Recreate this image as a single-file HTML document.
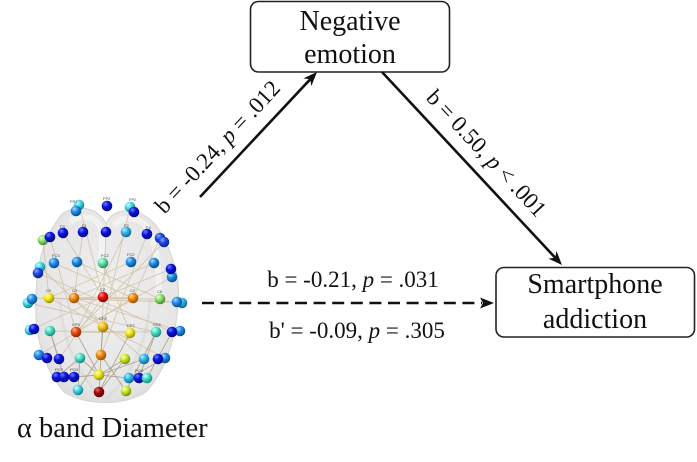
<!DOCTYPE html>
<html><head><meta charset="utf-8"><style>
html,body{margin:0;padding:0;background:#fff;}
svg{display:block;}
text{font-family:"Liberation Serif","Times New Roman",serif;fill:#111;}
.t{font-size:4px;fill:#444;font-family:"Liberation Sans",sans-serif;}
</style></head><body>
<svg width="697" height="462" viewBox="0 0 697 462" xmlns="http://www.w3.org/2000/svg">
<defs>
<radialGradient id="db" cx="35%" cy="30%" r="70%"><stop offset="0" stop-color="#6f7cff"/><stop offset=".45" stop-color="#0a14d8"/><stop offset="1" stop-color="#04088a"/></radialGradient>
<radialGradient id="bl" cx="35%" cy="30%" r="70%"><stop offset="0" stop-color="#8ea8ff"/><stop offset=".45" stop-color="#1e46e6"/><stop offset="1" stop-color="#0c2090"/></radialGradient>
<radialGradient id="do" cx="35%" cy="30%" r="70%"><stop offset="0" stop-color="#a8d8ff"/><stop offset=".45" stop-color="#1e8ce6"/><stop offset="1" stop-color="#0c4c90"/></radialGradient>
<radialGradient id="ds" cx="35%" cy="30%" r="70%"><stop offset="0" stop-color="#c0f0ff"/><stop offset=".45" stop-color="#30b4e8"/><stop offset="1" stop-color="#146a90"/></radialGradient>
<radialGradient id="cy" cx="35%" cy="30%" r="70%"><stop offset="0" stop-color="#d0ffff"/><stop offset=".45" stop-color="#40d8e8"/><stop offset="1" stop-color="#1a8090"/></radialGradient>
<radialGradient id="tq" cx="35%" cy="30%" r="70%"><stop offset="0" stop-color="#d8fff4"/><stop offset=".45" stop-color="#48e0c8"/><stop offset="1" stop-color="#1e8a78"/></radialGradient>
<radialGradient id="aq" cx="35%" cy="30%" r="70%"><stop offset="0" stop-color="#e0ffe8"/><stop offset=".45" stop-color="#60e0a8"/><stop offset="1" stop-color="#2a8a60"/></radialGradient>
<radialGradient id="lg" cx="35%" cy="30%" r="70%"><stop offset="0" stop-color="#eaffd8"/><stop offset=".45" stop-color="#8ce070"/><stop offset="1" stop-color="#4a8a30"/></radialGradient>
<radialGradient id="yg" cx="35%" cy="30%" r="70%"><stop offset="0" stop-color="#faffc8"/><stop offset=".45" stop-color="#c8e828"/><stop offset="1" stop-color="#7a9010"/></radialGradient>
<radialGradient id="ye" cx="35%" cy="30%" r="70%"><stop offset="0" stop-color="#ffffc0"/><stop offset=".45" stop-color="#f0e818"/><stop offset="1" stop-color="#9a9008"/></radialGradient>
<radialGradient id="gd" cx="35%" cy="30%" r="70%"><stop offset="0" stop-color="#fff0b0"/><stop offset=".45" stop-color="#f0c010"/><stop offset="1" stop-color="#9a7808"/></radialGradient>
<radialGradient id="or" cx="35%" cy="30%" r="70%"><stop offset="0" stop-color="#ffd8a0"/><stop offset=".45" stop-color="#f08a10"/><stop offset="1" stop-color="#9a5008"/></radialGradient>
<radialGradient id="orr" cx="35%" cy="30%" r="70%"><stop offset="0" stop-color="#ffb090"/><stop offset=".45" stop-color="#e84a10"/><stop offset="1" stop-color="#902808"/></radialGradient>
<radialGradient id="re" cx="35%" cy="30%" r="70%"><stop offset="0" stop-color="#ff9090"/><stop offset=".45" stop-color="#e01010"/><stop offset="1" stop-color="#880606"/></radialGradient>
<radialGradient id="dr" cx="35%" cy="30%" r="70%"><stop offset="0" stop-color="#e07070"/><stop offset=".45" stop-color="#a00808"/><stop offset="1" stop-color="#600404"/></radialGradient>
<radialGradient id="brain" cx="50%" cy="45%" r="60%"><stop offset="0" stop-color="#efefef"/><stop offset=".8" stop-color="#e6e6e6"/><stop offset="1" stop-color="#dadada"/></radialGradient>
</defs>

<!-- Brain silhouette -->
<path d="M63,213 C80,203 100,209 106,224 C112,207 140,204 158,228 C172,250 181,280 178,302 C176,340 166,370 146,392 C125,406 85,406 64,392 C44,370 34,335 36,300 C36,268 42,238 63,213 Z" fill="url(#brain)" stroke="#d4d4d4" stroke-width="1"/>
<path d="M70,222 C80,214 96,216 101,228 C104,250 100,280 96,300" fill="none" stroke="#f6f6f6" stroke-width="6" opacity=".7"/>
<path d="M114,226 C122,214 142,216 150,232 C158,250 160,280 158,300" fill="none" stroke="#f6f6f6" stroke-width="6" opacity=".7"/>
<path d="M60,300 C62,340 80,380 104,398" fill="none" stroke="#d8d8d8" stroke-width="3" opacity=".6"/>
<path d="M150,300 C148,340 130,380 106,398" fill="none" stroke="#d8d8d8" stroke-width="3" opacity=".6"/>

<!-- connections -->
<g stroke="#c9b48f" stroke-width=".9" opacity=".65" fill="none">
<line x1="74" y1="298" x2="103" y2="297"/><line x1="103" y1="297" x2="133" y2="298"/>
<line x1="49" y1="298" x2="177" y2="302"/><line x1="74" y1="298" x2="160" y2="299"/>
<line x1="63" y1="233" x2="103" y2="297"/><line x1="83" y1="232" x2="74" y2="298"/>
<line x1="50" y1="237" x2="76" y2="332"/><line x1="160" y1="238" x2="133" y2="298"/>
<line x1="164" y1="242" x2="76" y2="332"/><line x1="147" y1="234" x2="101" y2="355"/>
<line x1="79" y1="205" x2="103" y2="297"/><line x1="130" y1="207" x2="103" y2="327"/>
<line x1="43" y1="240" x2="49" y2="298"/><line x1="54" y1="263" x2="133" y2="298"/>
<line x1="77" y1="262" x2="160" y2="299"/><line x1="131" y1="262" x2="49" y2="298"/>
<line x1="154" y1="263" x2="74" y2="298"/><line x1="171" y1="269" x2="103" y2="297"/>
<line x1="40" y1="267" x2="103" y2="327"/><line x1="172" y1="277" x2="76" y2="332"/>
<line x1="30" y1="330" x2="103" y2="297"/><line x1="180" y1="331" x2="74" y2="298"/>
<line x1="39" y1="355" x2="133" y2="298"/><line x1="165" y1="358" x2="49" y2="298"/>
<line x1="50" y1="331" x2="156" y2="332"/><line x1="76" y1="332" x2="130" y2="333"/>
<line x1="31" y1="298" x2="177" y2="302"/><line x1="106" y1="232" x2="101" y2="355"/>
<line x1="126" y1="232" x2="76" y2="332"/><line x1="103" y1="263" x2="130" y2="333"/>
<line x1="59" y1="359" x2="103" y2="297"/><line x1="144" y1="359" x2="74" y2="298"/>
<line x1="38" y1="273" x2="172" y2="332"/><line x1="28" y1="303" x2="156" y2="332"/>
</g>
<g stroke="#8c7a5c" stroke-width=".9" opacity=".6" fill="none">
<line x1="99" y1="375" x2="129" y2="378"/><line x1="99" y1="375" x2="125" y2="359"/>
<line x1="99" y1="375" x2="144" y2="359"/><line x1="101" y1="355" x2="78" y2="390"/>
<line x1="126" y1="391" x2="101" y2="355"/><line x1="99" y1="392" x2="125" y2="359"/>
<line x1="80" y1="358" x2="78" y2="390"/><line x1="57" y1="377" x2="80" y2="358"/>
<line x1="74" y1="377" x2="99" y2="375"/><line x1="156" y1="332" x2="126" y2="391"/>
<line x1="156" y1="332" x2="139" y2="378"/><line x1="172" y1="332" x2="147" y2="378"/>
<line x1="50" y1="331" x2="59" y2="359"/><line x1="50" y1="331" x2="64" y2="377"/>
<line x1="130" y1="333" x2="99" y2="392"/><line x1="165" y1="358" x2="129" y2="378"/>
<line x1="76" y1="332" x2="99" y2="375"/><line x1="101" y1="355" x2="99" y2="392"/>
<line x1="103" y1="327" x2="101" y2="355"/><line x1="80" y1="358" x2="99" y2="375"/>
</g>

<!-- nodes -->
<g>
<circle cx="79" cy="205" r="5.3" fill="url(#cy)"/><circle cx="76" cy="211" r="5.3" fill="url(#do)"/>
<circle cx="107" cy="206" r="5.3" fill="url(#db)"/>
<circle cx="130" cy="207" r="5.3" fill="url(#cy)"/><circle cx="134" cy="212" r="5.3" fill="url(#db)"/>
<circle cx="43" cy="240" r="5.3" fill="url(#lg)"/><circle cx="50" cy="237" r="5.3" fill="url(#db)"/>
<circle cx="63" cy="233" r="5.3" fill="url(#db)"/><circle cx="83" cy="232" r="5.3" fill="url(#db)"/>
<circle cx="106" cy="232" r="5.3" fill="url(#db)"/><circle cx="126" cy="232" r="5.3" fill="url(#ds)"/>
<circle cx="147" cy="234" r="5.3" fill="url(#db)"/>
<circle cx="160" cy="238" r="5.3" fill="url(#bl)"/><circle cx="164" cy="242" r="5.3" fill="url(#bl)"/>
<circle cx="40" cy="267" r="5.3" fill="url(#cy)"/><circle cx="38" cy="273" r="5.3" fill="url(#bl)"/>
<circle cx="54" cy="263" r="5.3" fill="url(#do)"/><circle cx="77" cy="262" r="5.3" fill="url(#do)"/>
<circle cx="103" cy="263" r="5.3" fill="url(#aq)"/><circle cx="131" cy="262" r="5.3" fill="url(#do)"/>
<circle cx="154" cy="263" r="5.3" fill="url(#do)"/>
<circle cx="172" cy="277" r="5.3" fill="url(#do)"/><circle cx="171" cy="269" r="5.3" fill="url(#db)"/>
<circle cx="28" cy="303" r="5.3" fill="url(#cy)"/><circle cx="32" cy="299" r="5.3" fill="url(#do)"/>
<circle cx="49" cy="298" r="5.3" fill="url(#ye)"/><circle cx="74" cy="298" r="5.3" fill="url(#or)"/>
<circle cx="103" cy="297" r="5.3" fill="url(#re)"/><circle cx="133" cy="298" r="5.3" fill="url(#or)"/>
<circle cx="160" cy="299" r="5.3" fill="url(#lg)"/>
<circle cx="182" cy="303" r="5.3" fill="url(#ds)"/><circle cx="177" cy="302" r="5.3" fill="url(#do)"/>
<circle cx="30" cy="330" r="5.3" fill="url(#cy)"/><circle cx="34" cy="329" r="5.3" fill="url(#db)"/>
<circle cx="50" cy="331" r="5.3" fill="url(#tq)"/><circle cx="76" cy="332" r="5.3" fill="url(#orr)"/>
<circle cx="103" cy="327" r="5.3" fill="url(#gd)"/><circle cx="130" cy="333" r="5.3" fill="url(#ye)"/>
<circle cx="156" cy="332" r="5.3" fill="url(#tq)"/>
<circle cx="180" cy="331" r="5.3" fill="url(#do)"/><circle cx="172" cy="332" r="5.3" fill="url(#db)"/>
<circle cx="39" cy="355" r="5.3" fill="url(#do)"/><circle cx="47" cy="358" r="5.3" fill="url(#db)"/>
<circle cx="59" cy="359" r="5.3" fill="url(#db)"/><circle cx="80" cy="358" r="5.3" fill="url(#tq)"/>
<circle cx="101" cy="355" r="5.3" fill="url(#or)"/><circle cx="125" cy="359" r="5.3" fill="url(#yg)"/>
<circle cx="144" cy="359" r="5.3" fill="url(#ds)"/>
<circle cx="165" cy="358" r="5.3" fill="url(#do)"/><circle cx="158" cy="359" r="5.3" fill="url(#db)"/>
<circle cx="57" cy="377" r="5.3" fill="url(#db)"/><circle cx="64" cy="377" r="5.3" fill="url(#db)"/>
<circle cx="74" cy="377" r="5.3" fill="url(#db)"/><circle cx="99" cy="375" r="5.3" fill="url(#ye)"/>
<circle cx="129" cy="378" r="5.3" fill="url(#ds)"/><circle cx="139" cy="378" r="5.3" fill="url(#db)"/>
<circle cx="147" cy="378" r="5.3" fill="url(#tq)"/>
<circle cx="78" cy="390" r="5.3" fill="url(#cy)"/><circle cx="99" cy="392" r="5.3" fill="url(#dr)"/>
<circle cx="126" cy="391" r="5.3" fill="url(#yg)"/>
</g>
<g class="t">
<text class="t" x="70" y="203">FP1</text><text class="t" x="103" y="200">FPZ</text><text class="t" x="129" y="201">FP2</text>
<text class="t" x="60" y="228">F3</text><text class="t" x="82" y="227">F1</text><text class="t" x="124" y="227">F2</text><text class="t" x="146" y="229">F4</text>
<text class="t" x="101" y="257">FCZ</text><text class="t" x="127" y="256">FC2</text><text class="t" x="52" y="257">FC3</text>
<text class="t" x="46" y="292">C5</text><text class="t" x="72" y="292">C3</text><text class="t" x="100" y="291">CZ</text><text class="t" x="130" y="292">C2</text><text class="t" x="157" y="293">C6</text>
<text class="t" x="72" y="326">CP3</text><text class="t" x="99" y="320">CPZ</text><text class="t" x="127" y="327">CP2</text><text class="t" x="153" y="326">CP6</text>
<text class="t" x="55" y="371">PO7</text><text class="t" x="70" y="371">PO3</text><text class="t" x="135" y="372">PO4</text>
</g>

<!-- Boxes -->
<rect x="250.5" y="1.5" width="199" height="70.5" rx="8" ry="8" fill="#fff" stroke="#222" stroke-width="1.6"/>
<text x="350" y="30" font-size="28" text-anchor="middle">Negative</text>
<text x="350" y="63" font-size="28" text-anchor="middle">emotion</text>

<rect x="496" y="267.5" width="198.5" height="69.5" rx="8" ry="8" fill="#fff" stroke="#222" stroke-width="1.6"/>
<text x="595" y="293" font-size="28" text-anchor="middle">Smartphone</text>
<text x="595" y="328" font-size="28" text-anchor="middle">addiction</text>

<!-- Arrow 1 -->
<line x1="200" y1="197" x2="310.2" y2="79.3" stroke="#111" stroke-width="2.6"/>
<polygon points="317,72 311.4,86 310.2,79.3 303.4,78.4" fill="#111"/>
<!-- Arrow 2 -->
<line x1="382" y1="72" x2="555.2" y2="257.7" stroke="#111" stroke-width="2.6"/>
<polygon points="562,265 548.4,258.6 555.2,257.7 556.5,251" fill="#111"/>
<!-- Dashed arrow -->
<line x1="202" y1="303" x2="482" y2="303" stroke="#111" stroke-width="2.6" stroke-dasharray="12 6.6"/>
<polygon points="494,303 480,297.5 483,303 480,308.5" fill="#111"/>

<!-- Path labels -->
<g transform="translate(223,152) rotate(-47)">
<text x="0" y="0" font-size="23" text-anchor="middle">b = -0.24, <tspan font-style="italic">p</tspan> = .012</text>
</g>
<g transform="translate(481,158.5) rotate(47)">
<text x="0" y="0" font-size="23" text-anchor="middle">b = 0.50, <tspan font-style="italic">p</tspan> &lt; .001</text>
</g>
<text x="353" y="287" font-size="23" text-anchor="middle">b = -0.21, <tspan font-style="italic">p</tspan> = .031</text>
<text x="357" y="338" font-size="23" text-anchor="middle">b' = -0.09, <tspan font-style="italic">p</tspan> = .305</text>

<text x="17" y="437" font-size="28.5">α band Diameter</text>
</svg>
</body></html>
